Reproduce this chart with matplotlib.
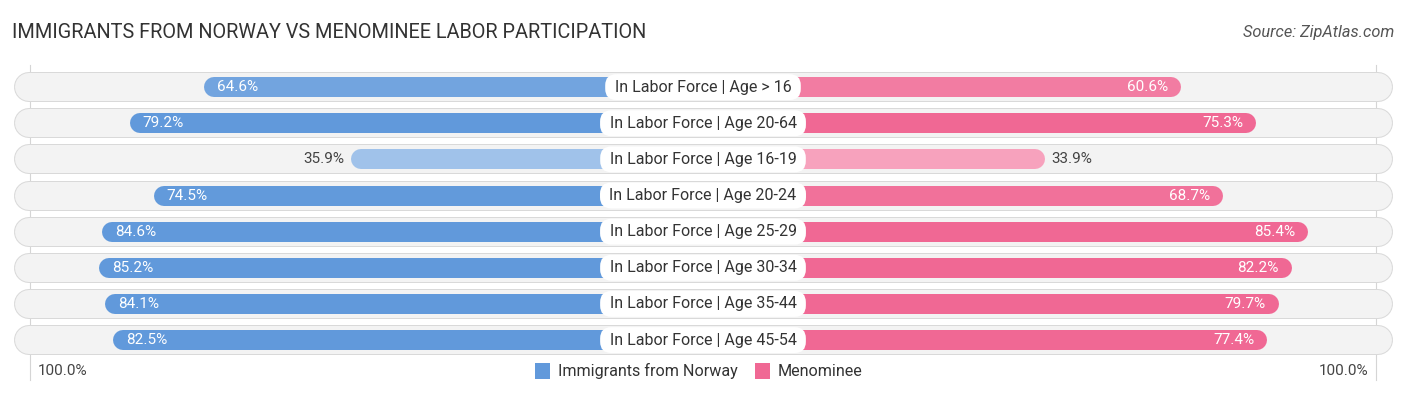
import matplotlib.pyplot as plt
import matplotlib.colors as mcolors
from matplotlib.patches import Rectangle

plt.rcParams['font.family'] = ['Roboto', 'DejaVu Sans']

categories = ['In Labor Force | Age > 16', 'In Labor Force | Age 20-64',
              'In Labor Force | Age 16-19', 'In Labor Force | Age 20-24',
              'In Labor Force | Age 25-29', 'In Labor Force | Age 30-34',
              'In Labor Force | Age 35-44', 'In Labor Force | Age 45-54']
norway = [64.6, 79.2, 35.9, 74.5, 84.6, 85.2, 84.1, 82.5]
menominee = [60.6, 75.3, 33.9, 68.7, 85.4, 82.2, 79.7, 77.4]
series_names = ['Immigrants from Norway', 'Menominee']

# layout (x in percent units, 1 unit ~ 5.1 px; bars start under the label)
OFF = 33.2
PX = 5.1
BLUE = '#6199db'
BLUE_LIGHT = '#b9d3f0'
PINK = '#f06894'
PINK_LIGHT = '#f9b6cb'


def shade(full, light, v):
    t = min(1.0, max(0.0, (v - 20) / 55))
    a = mcolors.to_rgb(full)
    b = mcolors.to_rgb(light)
    return tuple(b[i] + (a[i] - b[i]) * t for i in range(3))


fig = plt.figure(figsize=(14.06, 3.95), dpi=100)
ax = fig.add_axes([0, 0, 1, 1])
ax.set_xlim(-703 / PX, 703 / PX)
ax.set_ylim(8.52, -2.41)
ax.axis('off')

px_lw = 72 / 100  # points per pixel
cap = 10 / PX     # half bar height in x units (round cap radius)
bg_cap = 14 / PX

full = OFF + 100
for side in (-1, 1):
    ax.plot([side * (full - 1.2)] * 2, [-0.6, 8.1], color='#d5d5d5', lw=0.8, zorder=0)

for i, cat in enumerate(categories):
    # background pill
    ax.plot([-full - 1.8 + bg_cap, full + 1.8 - bg_cap], [i, i], color='#d9d9d9',
            lw=30 * px_lw, solid_capstyle='round', zorder=1)
    ax.plot([-full - 1.8 + bg_cap, full + 1.8 - bg_cap], [i, i], color='#f3f3f3',
            lw=28 * px_lw, solid_capstyle='round', zorder=1)

    vl = norway[i]
    vr = menominee[i]
    ax.plot([0, -(OFF + vl) + cap], [i, i], color=shade(BLUE, BLUE_LIGHT, vl),
            lw=20 * px_lw, solid_capstyle='round', zorder=2)
    ax.plot([0, (OFF + vr) - cap], [i, i], color=shade(PINK, PINK_LIGHT, vr),
            lw=20 * px_lw, solid_capstyle='round', zorder=2)

    if vl > 45:
        ax.text(-(OFF + vl) + 13 / PX, i, f'{vl}%', ha='left', va='center',
                color='white', fontsize=11, zorder=4)
    else:
        ax.text(-(OFF + vl) - 6 / PX, i, f'{vl}%', ha='right', va='center',
                color='#444444', fontsize=11, zorder=4)
    if vr > 45:
        ax.text((OFF + vr) - 13 / PX, i, f'{vr}%', ha='right', va='center',
                color='white', fontsize=11, zorder=4)
    else:
        ax.text((OFF + vr) + 6 / PX, i, f'{vr}%', ha='left', va='center',
                color='#444444', fontsize=11, zorder=4)

    ax.text(0, i, f' {cat} ', ha='center', va='center', fontsize=11.5, color='#333333',
            zorder=5,
            bbox=dict(boxstyle='round,pad=0.34,rounding_size=0.7', fc='white', ec='none'))

# title and source
fig.text(12 / 1406, 1 - 33 / 395, 'IMMIGRANTS FROM NORWAY VS MENOMINEE LABOR PARTICIPATION',
         ha='left', va='center', fontsize=14.3, color='#333333')
fig.text(1394 / 1406, 1 - 33 / 395, 'Source: ZipAtlas.com', ha='right', va='center',
         fontsize=11.8, color='#555555', style='italic')

# bottom axis labels
leg_y = 7.86
ax.text(-full + 14 / PX, leg_y, '100.0%', ha='left', va='center', fontsize=11, color='#444444')
ax.text(full - 14 / PX, leg_y, '100.0%', ha='right', va='center', fontsize=11, color='#444444')

# legend
items = [(series_names[0], BLUE, -168 / PX), (series_names[1], PINK, 52 / PX)]
for name, col, x0 in items:
    ax.add_patch(Rectangle((x0, leg_y - 8 / 36.14), 15 / PX, 16 / 36.14, fc=col, ec='none'))
    ax.text(x0 + 23 / PX, leg_y, name, ha='left', va='center', fontsize=11.6, color='#333333')

fig.savefig('out.png', dpi=100)
